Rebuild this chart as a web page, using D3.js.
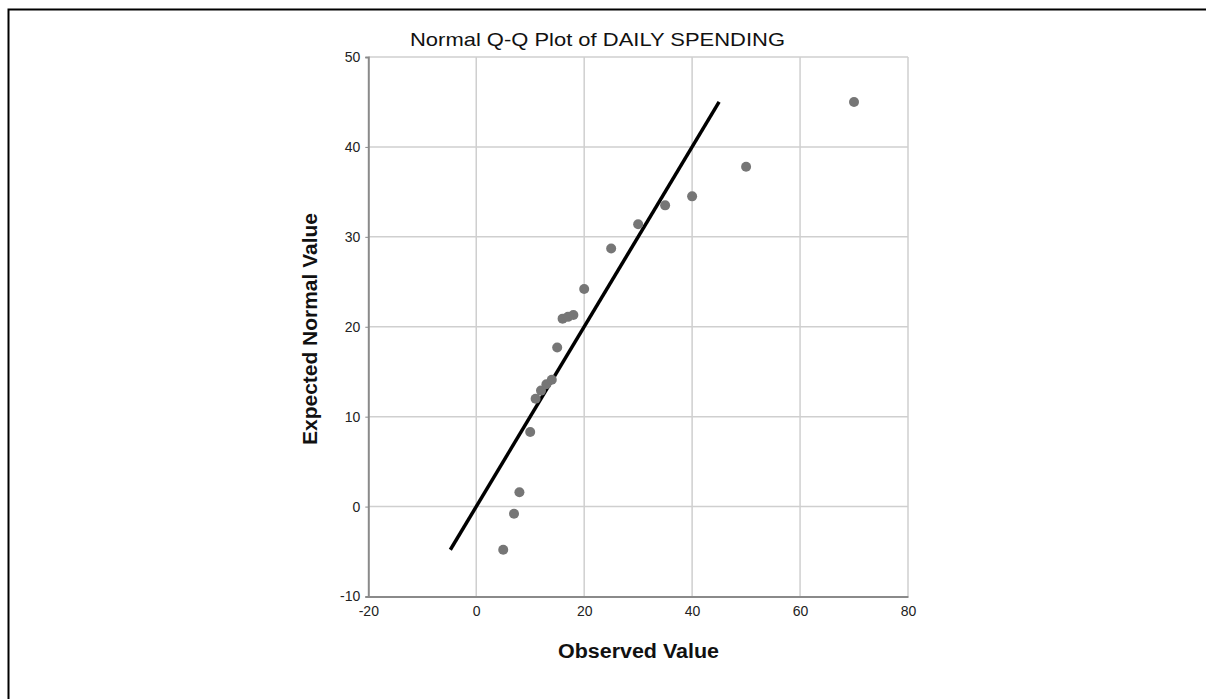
<!DOCTYPE html>
<html>
<head>
<meta charset="utf-8">
<script src="https://cdn.jsdelivr.net/npm/d3@7"></script>
<style>
  body { margin: 0; background: #fff; }
  text { font-family: "Liberation Sans", Arial, sans-serif; }
</style>
</head>
<body>
<div id="container"></div>
<script>
// datos
var observed = [5, 7, 8, 10, 11, 12, 13, 14, 15, 16, 17, 18, 20, 25, 30, 35, 40, 50, 70];
var expected = [-4.8, -0.8, 1.6, 8.3, 12.0, 12.9, 13.6, 14.1, 17.7, 20.9, 21.1, 21.3, 24.2, 28.7, 31.4, 33.5, 34.5, 37.8, 45.0];
var refLine = [-4.8, 45];
var xTicks = [-20, 0, 20, 40, 60, 80];
var yTicks = [-10, 0, 10, 20, 30, 40, 50];

var w = 1206, h = 699;
var plot = { left: 368.3, right: 908, top: 57, bottom: 596.5 };

var svg = d3.select("#container").append("svg")
    .attr("width", w)
    .attr("height", h);

// marco exterior
svg.append("path")
    .attr("d", "M8.5," + h + "V9.5H" + w)
    .attr("fill", "none")
    .attr("stroke", "#000")
    .attr("stroke-width", 2);

var x = d3.scaleLinear().domain([-20, 80]).range([plot.left, plot.right]);
var y = d3.scaleLinear().domain([-10, 50]).range([plot.bottom, plot.top]);

// rejilla
svg.append("g")
    .selectAll("line")
    .data(xTicks.slice(1))
    .enter()
    .append("line")
    .attr("x1", function(d) { return x(d); })
    .attr("x2", function(d) { return x(d); })
    .attr("y1", plot.top)
    .attr("y2", plot.bottom)
    .attr("stroke", "#cfcfcf")
    .attr("stroke-width", 1.5);

svg.append("g")
    .selectAll("line")
    .data(yTicks.slice(1))
    .enter()
    .append("line")
    .attr("x1", plot.left)
    .attr("x2", plot.right)
    .attr("y1", function(d) { return y(d); })
    .attr("y2", function(d) { return y(d); })
    .attr("stroke", "#cfcfcf")
    .attr("stroke-width", 1.5);

// ejes (guion normal en negativos, como el original)
var fmt = function(d) { return String(d); };

var xAxis = svg.append("g")
    .attr("transform", "translate(0," + plot.bottom + ")")
    .call(d3.axisBottom(x).tickValues(xTicks).tickFormat(fmt).tickSize(0).tickPadding(10));

var yAxis = svg.append("g")
    .attr("transform", "translate(" + plot.left + ",0)")
    .call(d3.axisLeft(y).tickValues(yTicks).tickFormat(fmt).tickSize(3).tickPadding(5));

[xAxis, yAxis].forEach(function(a) {
    a.select(".domain").attr("stroke", "#8a8a8a").attr("stroke-width", 2);
    a.selectAll(".tick line").attr("stroke", "#8a8a8a");
    a.selectAll("text")
        .attr("fill", "#222")
        .style("font-size", "14px")
        .style("font-family", "'Liberation Sans', Arial, sans-serif");
});

// linea de referencia
svg.append("line")
    .attr("x1", x(refLine[0]))
    .attr("y1", y(refLine[0]))
    .attr("x2", x(refLine[1]))
    .attr("y2", y(refLine[1]))
    .attr("stroke", "#000")
    .attr("stroke-width", 3.5);

// puntos
svg.append("g")
    .selectAll("circle")
    .data(observed)
    .enter()
    .append("circle")
    .attr("cx", function(d) { return x(d); })
    .attr("cy", function(d, i) { return y(expected[i]); })
    .attr("r", 5)
    .attr("fill", "#767676");

// titulos
svg.append("text")
    .attr("x", 597.5)
    .attr("y", 46)
    .attr("text-anchor", "middle")
    .attr("textLength", 375)
    .attr("lengthAdjust", "spacingAndGlyphs")
    .style("font-size", "19px")
    .attr("fill", "#111")
    .text("Normal Q-Q Plot of DAILY SPENDING");

svg.append("text")
    .attr("x", 638.5)
    .attr("y", 658)
    .attr("text-anchor", "middle")
    .attr("textLength", 161)
    .attr("lengthAdjust", "spacingAndGlyphs")
    .style("font-size", "20px")
    .style("font-weight", "bold")
    .attr("fill", "#111")
    .text("Observed Value");

svg.append("text")
    .attr("transform", "translate(317,329) rotate(-90)")
    .attr("text-anchor", "middle")
    .attr("textLength", 232)
    .attr("lengthAdjust", "spacingAndGlyphs")
    .style("font-size", "20px")
    .style("font-weight", "bold")
    .attr("fill", "#111")
    .text("Expected Normal Value");
</script>
</body>
</html>
